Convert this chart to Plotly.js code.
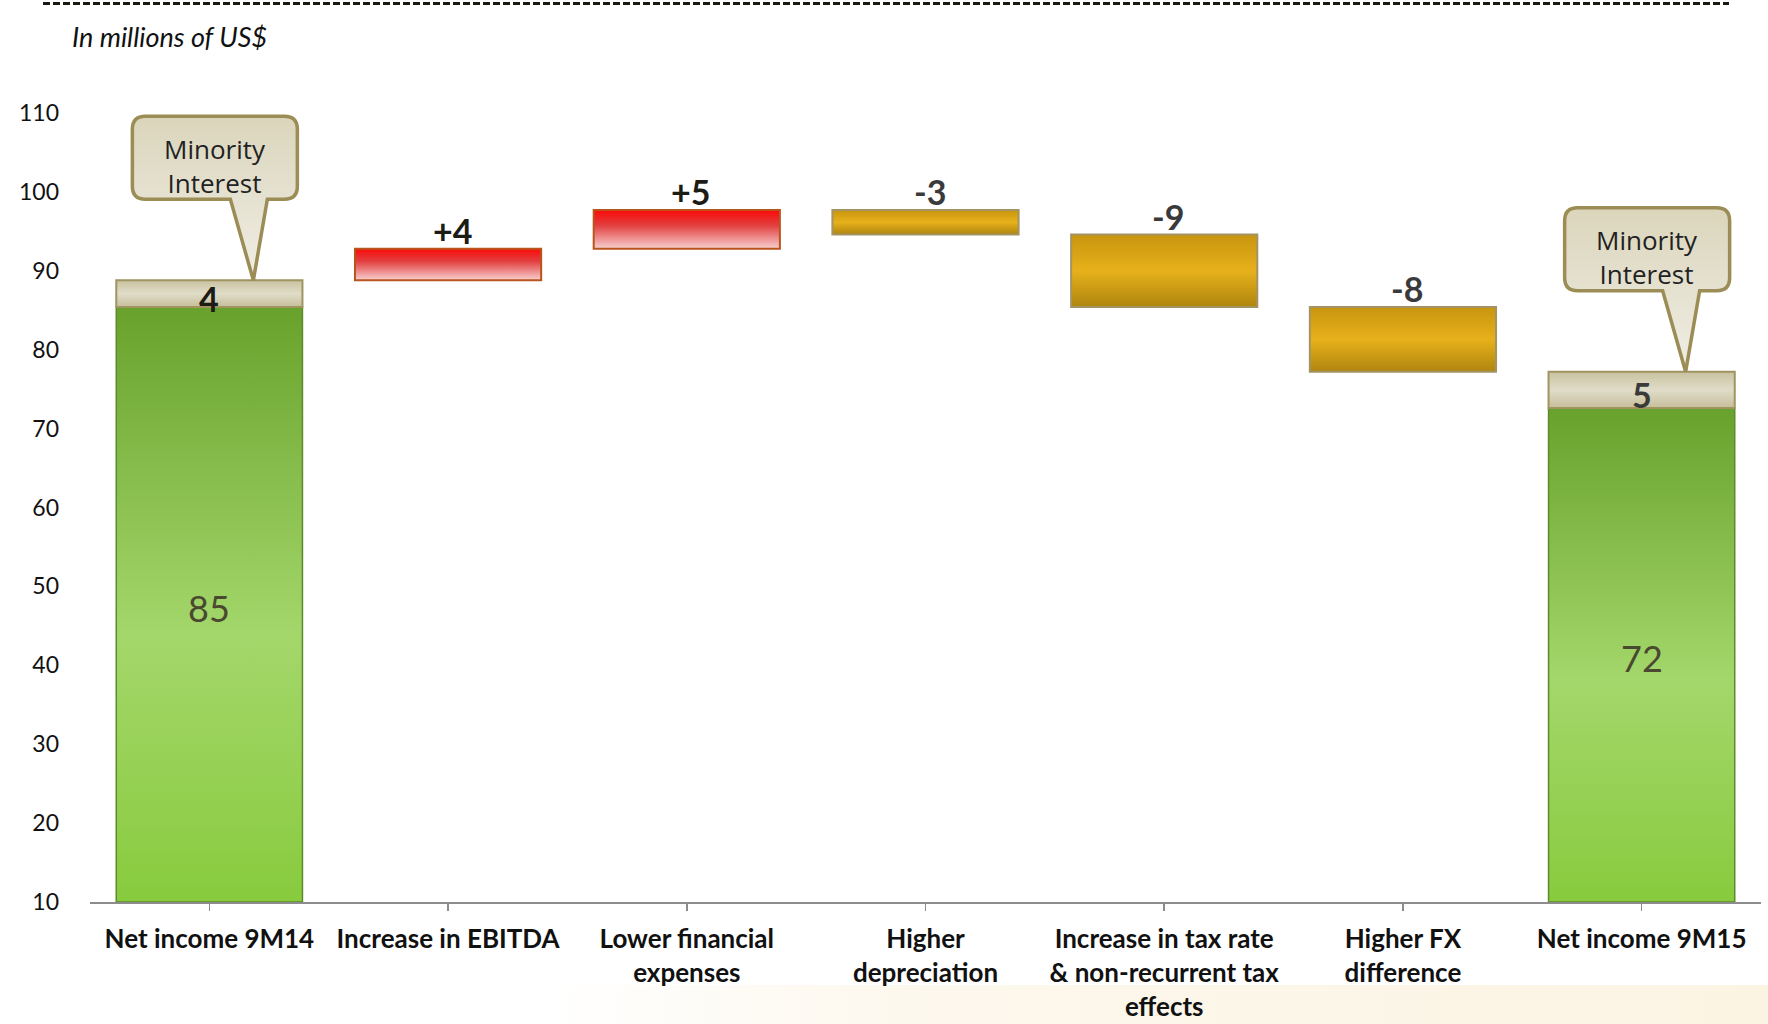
<!DOCTYPE html>
<html><head><meta charset="utf-8">
<script src="https://cdn.plot.ly/plotly-3.0.1.min.js"></script>
<style>html,body{margin:0;padding:0;background:#fff;} #chart{width:1768px;height:1024px;}</style>
</head><body><div id="chart"></div>
<script>
// ---- data ----
const categories = ['Net income 9M14', 'Increase in EBITDA', 'Lower financial<br>expenses', 'Higher<br>depreciation',
  'Increase in tax rate<br>& non-recurrent tax<br>effects', 'Higher FX<br>difference', 'Net income 9M15'];
const netIncome = [85.4, 72.6];
const netIncomeLabels = ['85', '72'];
const minority = [3.4, 4.6];
const minorityLabels = ['4', '5'];
const deltas = [4.0, 4.9, -3.1, -9.2, -8.2];
const deltaLabels = ['+4', '+5', '-3', '-9', '-8'];
const yTicks = [10, 20, 30, 40, 50, 60, 70, 80, 90, 100, 110];
const yRange = [10, 110];
const unitText = 'In millions of US$';
const calloutText = 'Minority<br>Interest';

// ---- derived ----
const totalCats = [categories[0], categories[categories.length - 1]];
const deltaCats = categories.slice(1, categories.length - 1);
const deltaBases = [];
let running = netIncome[0] + minority[0];
deltas.forEach(d => { deltaBases.push(running); running += d; });

const W = 1768, H = 1024;
const M = {l: 90, r: 7, t: 113, b: 122};
const PW = W - M.l - M.r, PH = H - M.t - M.b;
const BARW = 0.78;
const px2x = p => (p - M.l) / PW;
const py2y = p => (H - M.b - p) / PH;
const catPx = i => M.l + (i + 0.5) * PW / categories.length;
const valPy = v => H - M.b - (v - yRange[0]) / (yRange[1] - yRange[0]) * PH;

const FONT = 'Lato, "Open Sans", sans-serif';

const data = [
  { type: 'bar', x: totalCats, y: netIncome.map(v => v - yRange[0]), base: [yRange[0], yRange[0]], width: BARW,
    marker: {color: '#8cc74a', line: {color: '#5d8a2c', width: 1.5}}, hoverinfo: 'skip' },
  { type: 'bar', x: totalCats, y: minority, base: netIncome, width: BARW,
    marker: {color: '#d8d2b8', line: {color: '#a09460', width: 2}}, hoverinfo: 'skip' },
  { type: 'bar', x: deltaCats, y: deltas, base: deltaBases, width: BARW,
    marker: {color: deltas.map(d => d >= 0 ? '#ee4444' : '#e0ad1a'),
             line: {color: deltas.map(d => d >= 0 ? '#b9541c' : '#a39463'), width: 2}}, hoverinfo: 'skip' }
];

const annotations = [];
totalCats.forEach((c, i) => {
  annotations.push({x: c, y: (yRange[0] + netIncome[i]) / 2, xref: 'x', yref: 'y', text: netIncomeLabels[i],
    showarrow: false, yshift: -3, font: {family: FONT, size: 36, color: '#4a4830'}});
  annotations.push({x: c, y: netIncome[i] + minority[i] / 2, xref: 'x', yref: 'y', text: minorityLabels[i],
    showarrow: false, yshift: -5, font: {family: FONT, size: 34, color: i === 0 ? '#1c1c14' : '#3a3a3a', weight: 700}});
});
deltaCats.forEach((c, i) => {
  const top = Math.max(deltaBases[i], deltaBases[i] + deltas[i]);
  annotations.push({x: c, y: top, xref: 'x', yref: 'y', text: deltaLabels[i], yanchor: 'bottom', yshift: -4, xshift: 4,
    showarrow: false, font: {family: FONT, size: 34, color: deltas[i] >= 0 ? '#1c1c14' : '#3a3a3a', weight: 700}});
});
annotations.push({x: px2x(70), y: py2y(36), xref: 'paper', yref: 'paper', xanchor: 'left', yanchor: 'middle',
  text: '<i>' + unitText + '</i>', showarrow: false, font: {family: FONT, size: 27, color: '#111', style: 'italic'}});

const shapes = [];
shapes.push({type: 'line', xref: 'paper', yref: 'paper', x0: px2x(43), x1: px2x(1729), y0: py2y(3.5), y1: py2y(3.5),
  line: {color: '#1a1a14', width: 3, dash: '7px,3px'}});
const glowIdx = shapes.length;
shapes.push({type: 'rect', xref: 'paper', yref: 'paper', layer: 'below', x0: px2x(540), x1: px2x(1768), y0: py2y(1024), y1: py2y(985),
  fillcolor: 'rgba(250,238,205,0.25)', line: {width: 0}});

const calloutIdx = [];
[0, categories.length - 1].forEach((ci, k) => {
  const tipX = catPx(ci) + 44;
  const tipY = valPy(netIncome[k] + minority[k]);
  const L = tipX - 121, R = tipX + 44, T = tipY - 164, B = tipY - 81, r = 13;
  const tl = tipX - 23, tr = tipX + 14;
  const P = (x, y) => px2x(x).toFixed(5) + ',' + py2y(y).toFixed(5);
  const path = 'M' + P(L + r, T) + ' L' + P(R - r, T) + ' Q' + P(R, T) + ' ' + P(R, T + r) +
    ' L' + P(R, B - r) + ' Q' + P(R, B) + ' ' + P(R - r, B) + ' L' + P(tr, B) + ' L' + P(tipX, tipY) +
    ' L' + P(tl, B) + ' L' + P(L + r, B) + ' Q' + P(L, B) + ' ' + P(L, B - r) + ' L' + P(L, T + r) +
    ' Q' + P(L, T) + ' ' + P(L + r, T) + ' Z';
  calloutIdx.push(shapes.length);
  shapes.push({type: 'path', xref: 'paper', yref: 'paper', path: path, fillcolor: '#e6e2d2',
    line: {color: '#9b8d55', width: 3.5}, layer: 'above'});
  annotations.push({x: px2x((L + R) / 2), y: py2y((T + B) / 2 + 8), xref: 'paper', yref: 'paper', text: calloutText,
    xanchor: 'center', yanchor: 'middle',
    showarrow: false, font: {family: '"Open Sans", sans-serif', size: 26, color: '#222'}});
});

const layout = {
  width: W, height: H, margin: M, paper_bgcolor: '#ffffff', plot_bgcolor: 'rgba(0,0,0,0)',
  showlegend: false, barmode: 'overlay',
  xaxis: {type: 'category', categoryorder: 'array', categoryarray: categories, range: [-0.5, categories.length - 0.5],
    showline: true, linecolor: '#8c8c8c', linewidth: 2, ticks: 'outside', ticklen: 7, tickcolor: '#8c8c8c', tickwidth: 1.5,
    showgrid: false, zeroline: false, tickfont: {family: FONT, size: 26, color: '#111', weight: 700}, ticklabelstandoff: 6},
  yaxis: {range: yRange, tickvals: yTicks, showgrid: false, zeroline: false, showline: false, ticks: '',
    tickfont: {family: FONT, size: 23, color: '#111'}, ticklabelstandoff: 30},
  annotations: annotations, shapes: shapes
};

const gd = document.getElementById('chart');
Plotly.newPlot(gd, data, layout, {staticPlot: true, displayModeBar: false}).then(() => {
  const NS = 'http://www.w3.org/2000/svg';
  const svg = gd.querySelector('.main-svg');
  let defs = svg.querySelector('defs');
  if (!defs) { defs = document.createElementNS(NS, 'defs'); svg.insertBefore(defs, svg.firstChild); }
  function grad(id, stops, horiz) {
    const g = document.createElementNS(NS, 'linearGradient');
    g.setAttribute('id', id); g.setAttribute('x1', '0'); g.setAttribute('y1', '0');
    g.setAttribute('x2', horiz ? '1' : '0'); g.setAttribute('y2', horiz ? '0' : '1');
    stops.forEach(([o, c, a]) => { const s = document.createElementNS(NS, 'stop'); s.setAttribute('offset', o); s.setAttribute('stop-color', c);
      if (a !== undefined) s.setAttribute('stop-opacity', a); g.appendChild(s); });
    defs.appendChild(g);
  }
  grad('gGreen', [['0', '#68a22c'], ['0.55', '#a4d76b'], ['1', '#88cb3e']]);
  grad('gTan', [['0', '#c9c2a0'], ['0.5', '#e0dcc8'], ['1', '#c6be9a']]);
  grad('gRed', [['0', '#fa0a0a'], ['0.4', '#e24040'], ['1', '#f8d0d0']]);
  grad('gGold', [['0', '#c8950f'], ['0.5', '#e6b11b'], ['1', '#b0850f']]);
  grad('gCallout', [['0', '#dbd5bb'], ['1', '#f0eee6']]);
  grad('gGlow', [['0', '#fbf1dc', 0], ['0.3', '#fbf1dc', 0.5], ['1', '#fbf1dc', 0.8]], true);
  const traces = gd.querySelectorAll('.barlayer .trace');
  const setFill = (el, id) => { el.style.fill = 'url(#' + id + ')'; el.style.fillOpacity = 1; };
  if (traces[0]) traces[0].querySelectorAll('path').forEach(p => setFill(p, 'gGreen'));
  if (traces[1]) traces[1].querySelectorAll('path').forEach(p => setFill(p, 'gTan'));
  if (traces[2]) traces[2].querySelectorAll('.point path').forEach((p, i) => setFill(p, deltas[i] >= 0 ? 'gRed' : 'gGold'));
  calloutIdx.forEach(i => {
    gd.querySelectorAll('.shapelayer path[data-index="' + i + '"]').forEach(p => setFill(p, 'gCallout'));
  });
  gd.querySelectorAll('.shapelayer path[data-index="' + glowIdx + '"]').forEach(p => setFill(p, 'gGlow'));
});
</script>
</body></html>
